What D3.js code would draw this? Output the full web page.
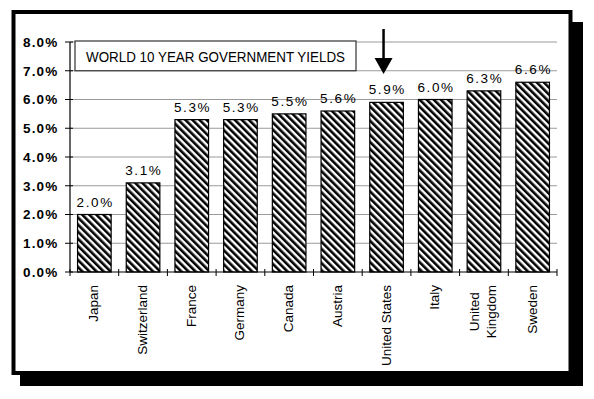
<!DOCTYPE html>
<html>
<head>
<meta charset="utf-8">
<script src="https://cdn.jsdelivr.net/npm/d3@7"></script>
<style>
  html, body { margin: 0; padding: 0; background: #fff; }
  svg { display: block; }
</style>
</head>
<body>
<svg id="chart" width="594" height="399"></svg>
<script>
const categories = ["Japan", "Switzerland", "France", "Germany", "Canada", "Austria", "United States", "Italy", "United Kingdom", "Sweden"];
const categoryLines = [["Japan"], ["Switzerland"], ["France"], ["Germany"], ["Canada"], ["Austria"], ["United States"], ["Italy"], ["United", "Kingdom"], ["Sweden"]];
const yields = [2.0, 3.1, 5.3, 5.3, 5.5, 5.6, 5.9, 6.0, 6.3, 6.6];
const yTicks = [0, 1, 2, 3, 4, 5, 6, 7, 8];
const chartTitle = "WORLD 10 YEAR GOVERNMENT YIELDS";
const highlighted = "United States";

const svg = d3.select("#chart");
const font = "'Liberation Sans', Arial, Helvetica, sans-serif";

// pattern
const defs = svg.append("defs");
const pat = defs.append("pattern")
  .attr("id", "hatch")
  .attr("patternUnits", "userSpaceOnUse")
  .attr("width", 5).attr("height", 5)
  .attr("patternTransform", "rotate(-45)");
pat.append("rect").attr("width", 5).attr("height", 5).attr("fill", "#fff");
pat.append("rect").attr("width", 2.6).attr("height", 5).attr("fill", "#000");

// frame shadow + frame
svg.append("rect").attr("x", 20).attr("y", 22).attr("width", 563).attr("height", 364).attr("fill", "#000");
svg.append("rect").attr("x", 13.5).attr("y", 12).attr("width", 557).attr("height", 361)
  .attr("fill", "#fff").attr("stroke", "#000").attr("stroke-width", 4);

const x = d3.scaleBand().domain(categories).range([70, 557]).paddingInner(0.31).paddingOuter(0.155);
const y = d3.scaleLinear().domain([0, 8]).range([272, 42]);

// gridlines
svg.append("g").selectAll("line").data(yTicks.filter(d => d > 0)).join("line")
  .attr("x1", 70).attr("x2", 557)
  .attr("y1", d => y(d)).attr("y2", d => y(d))
  .attr("stroke", "#9a9a9a").attr("stroke-width", 1);

// title box
svg.append("rect").attr("x", 75).attr("y", y(8) - 1).attr("width", 281).attr("height", y(7) - y(8) + 1)
  .attr("fill", "#fff").attr("stroke", "#333").attr("stroke-width", 1.2);
svg.append("text").attr("x", 86).attr("y", 62)
  .attr("font-family", font).attr("font-size", 15)
  .attr("textLength", 259).attr("lengthAdjust", "spacingAndGlyphs")
  .attr("fill", "#000").text(chartTitle);

// bars
svg.append("g").selectAll("rect").data(categories).join("rect")
  .attr("x", d => x(d)).attr("width", x.bandwidth())
  .attr("y", (d, i) => y(yields[i])).attr("height", (d, i) => y(0) - y(yields[i]))
  .attr("fill", "url(#hatch)").attr("stroke", "#000").attr("stroke-width", 1.2);

// value labels
svg.append("g").selectAll("text").data(categories).join("text")
  .attr("x", d => x(d) + x.bandwidth() / 2 + 0.8)
  .attr("y", (d, i) => y(yields[i]) - 8)
  .attr("text-anchor", "middle")
  .attr("font-family", font).attr("font-size", 13.5).attr("letter-spacing", 1.6)
  .attr("fill", "#000")
  .text((d, i) => d3.format(".1f")(yields[i]) + "%");

// y axis
const yAxis = svg.append("g");
yAxis.append("line").attr("x1", 70).attr("x2", 70).attr("y1", y(0)).attr("y2", y(8))
  .attr("stroke", "#000").attr("stroke-width", 1.2);
yAxis.selectAll("line.tick").data(yTicks).join("line").attr("class", "tick")
  .attr("x1", 65).attr("x2", 73).attr("y1", d => y(d)).attr("y2", d => y(d))
  .attr("stroke", "#000").attr("stroke-width", 1);
yAxis.selectAll("text").data(yTicks).join("text")
  .attr("x", 58.5).attr("y", d => y(d)).attr("dy", "0.36em")
  .attr("text-anchor", "end")
  .attr("font-family", font).attr("font-size", 13.5).attr("font-weight", "bold").attr("letter-spacing", 1.2)
  .attr("fill", "#000")
  .text(d => d3.format(".1f")(d) + "%");

// x axis
const step = x.step();
const gap = step - x.bandwidth();
const bounds = categories.map(c => x(c) - gap / 2).concat([x(categories[categories.length - 1]) + x.bandwidth() + gap / 2]);
const xAxis = svg.append("g");
xAxis.append("line").attr("x1", 70).attr("x2", 557).attr("y1", y(0)).attr("y2", y(0))
  .attr("stroke", "#000").attr("stroke-width", 1.2);
xAxis.selectAll("line.tick").data(bounds).join("line").attr("class", "tick")
  .attr("x1", d => d).attr("x2", d => d).attr("y1", y(0) - 3).attr("y2", y(0) + 4)
  .attr("stroke", "#000").attr("stroke-width", 1);

// x labels (rotated)
const labelTop = 285;
categories.forEach((c, i) => {
  const lines = categoryLines[i];
  const cx = x(c) + x.bandwidth() / 2;
  const g = xAxis.append("g");
  const texts = lines.map((ln, k) => {
    const off = lines.length === 1 ? 4 : (k === 0 ? -4.5 : 12.5);
    return g.append("text")
      .attr("font-family", font).attr("font-size", 13.5).attr("fill", "#000")
      .attr("data-off", off)
      .text(ln);
  });
  const maxLen = d3.max(texts, t => t.node().getComputedTextLength());
  texts.forEach(t => {
    const off = +t.attr("data-off");
    if (lines.length === 1) {
      t.attr("text-anchor", "end")
       .attr("transform", `translate(${cx + off},${labelTop}) rotate(-90)`);
    } else {
      t.attr("text-anchor", "middle")
       .attr("transform", `translate(${cx + off},${labelTop + maxLen / 2}) rotate(-90)`);
    }
  });
});

// arrow pointing at highlighted bar
const ax = x(highlighted) + x.bandwidth() / 2 - 3;
svg.append("line").attr("x1", ax).attr("x2", ax).attr("y1", 29).attr("y2", 60)
  .attr("stroke", "#000").attr("stroke-width", 2.5);
svg.append("path")
  .attr("d", `M${ax - 9},58 L${ax + 9},58 L${ax},74 Z`)
  .attr("fill", "#000");
</script>
</body>
</html>
